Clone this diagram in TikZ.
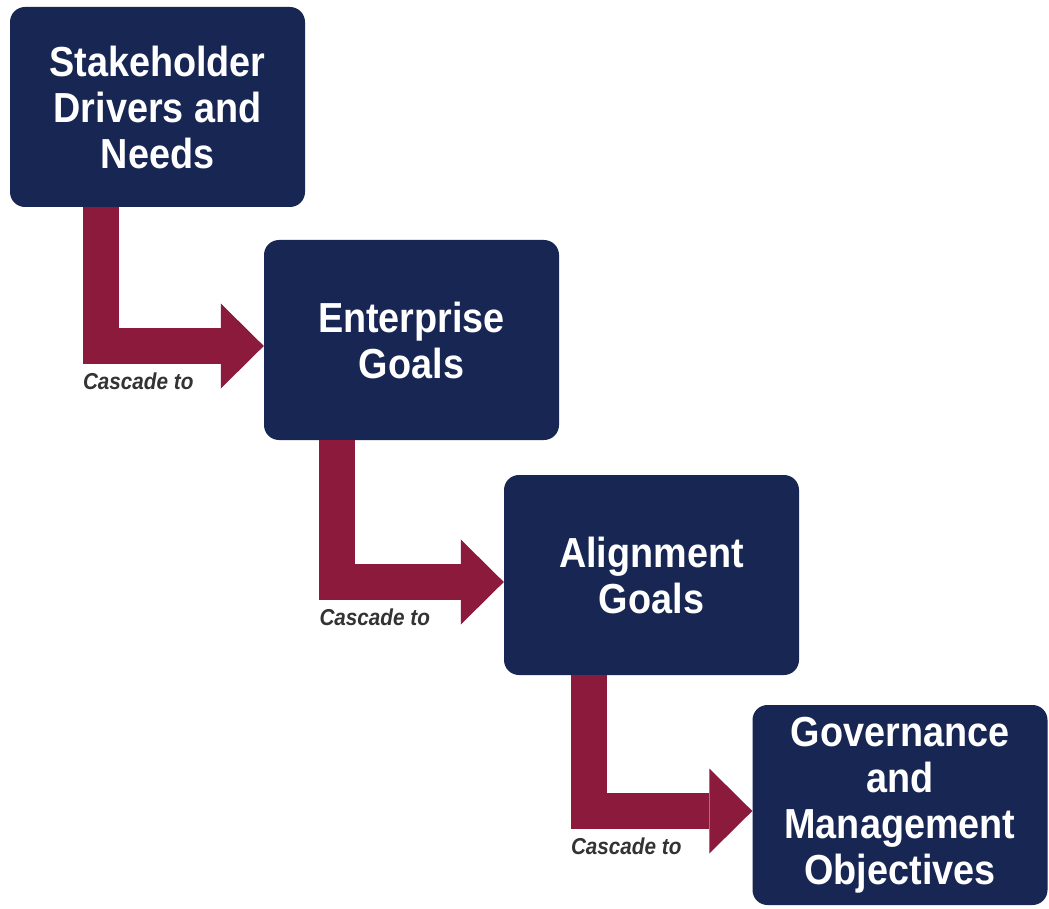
\documentclass[tikz,border=0pt]{standalone}
\usepackage{fontspec}
\setmainfont{Liberation Sans}[FakeStretch=0.9]
\usepackage{tikz}
\usetikzlibrary{arrows.meta,calc,positioning}
\definecolor{navy}{HTML}{182654}
\definecolor{wine}{HTML}{8B1A3C}
\definecolor{labelgray}{HTML}{333333}
\tikzset{
  goal/.style={rectangle,rounded corners=15pt,fill=navy,text=white,
    minimum width=295pt,minimum height=200pt,inner sep=0pt,align=center,
    font=\fontsize{42}{46}\selectfont\bfseries},
  cascade/.style={wine,line width=36pt,line join=miter,
    -{Triangle[length=43pt,width=85pt,line width=0pt]}},
  cascadelabel/.style={anchor=north west,inner sep=0pt,text=labelgray,
    font=\fontsize{23}{26}\selectfont\bfseries\itshape}
}

\begin{document}
\begin{tikzpicture}[x=1pt,y=-1pt]
  \useasboundingbox[fill=white] (0,0) rectangle (1049,909);
  \node[goal] (stake) at (157.5,107) {Stakeholder\\Drivers and\\Needs};
  \node[goal] (enterprise) at (411.5,340) {Enterprise\\Goals};
  \node[goal] (alignment) at (651.5,575) {Alignment\\Goals};
  \node[goal] (govern) at (900,805) {Governance\\and\\Management\\Objectives};
  \draw[cascade] ([xshift=91pt]stake.south west)
    |- coordinate[pos=.5] (bend1) ([yshift=-6pt]enterprise.west);
  \draw[cascade] ([xshift=73.5pt]enterprise.south west)
    |- coordinate[pos=.5] (bend2) ([yshift=-7pt]alignment.west);
  \draw[cascade] ([xshift=85pt]alignment.south west)
    |- coordinate[pos=.5] (bend3) ([yshift=-6pt]govern.west);
  \node[cascadelabel] (lbl1) at ($(bend1)+(-18,27)$) {Cascade to};
  \node[cascadelabel] (lbl2) at ($(bend2)+(-18,27)$) {Cascade to};
  \node[cascadelabel] (lbl3) at ($(bend3)+(-18,27)$) {Cascade to};
\end{tikzpicture}
\end{document}
